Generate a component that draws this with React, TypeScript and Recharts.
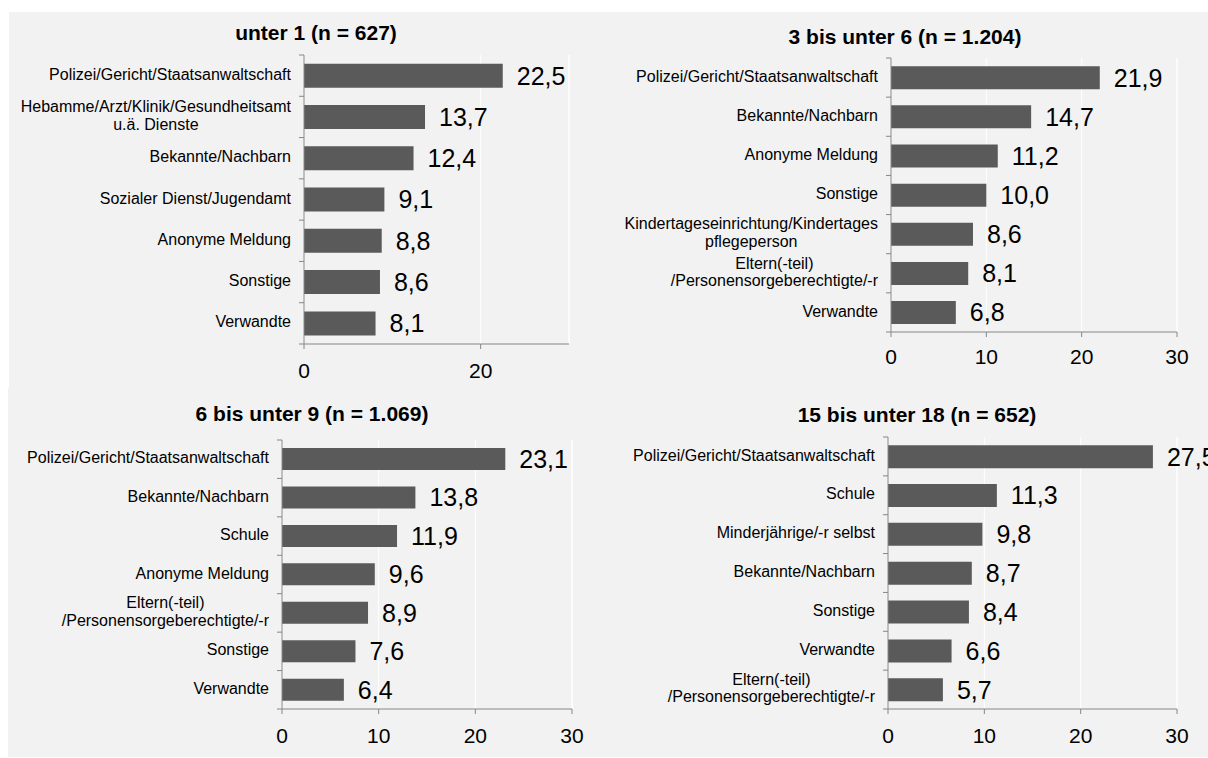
import React from 'react';
import { BarChart, Bar, XAxis, YAxis, CartesianGrid, LabelList, ReferenceLine } from 'recharts';

const FONT = "'Liberation Sans', Arial, sans-serif";
const AXIS = '#868686';
const BAR = '#5a5a5a';
const BG = '#f2f2f2';

// ---- data ----
const title1 = 'unter 1 (n = 627)';
const cats1 = [
  'Polizei/Gericht/Staatsanwaltschaft',
  'Hebamme/Arzt/Klinik/Gesundheitsamt\nu.ä. Dienste',
  'Bekannte/Nachbarn',
  'Sozialer Dienst/Jugendamt',
  'Anonyme Meldung',
  'Sonstige',
  'Verwandte',
];
const vals1 = [22.5, 13.7, 12.4, 9.1, 8.8, 8.6, 8.1];
const ticks1 = [0, 20];

const title2 = '3 bis unter 6 (n = 1.204)';
const cats2 = [
  'Polizei/Gericht/Staatsanwaltschaft',
  'Bekannte/Nachbarn',
  'Anonyme Meldung',
  'Sonstige',
  'Kindertageseinrichtung/Kindertages\npflegeperson',
  'Eltern(-teil)\n/Personensorgeberechtigte/-r',
  'Verwandte',
];
const vals2 = [21.9, 14.7, 11.2, 10.0, 8.6, 8.1, 6.8];
const ticks2 = [0, 10, 20, 30];

const title3 = '6 bis unter 9 (n = 1.069)';
const cats3 = [
  'Polizei/Gericht/Staatsanwaltschaft',
  'Bekannte/Nachbarn',
  'Schule',
  'Anonyme Meldung',
  'Eltern(-teil)\n/Personensorgeberechtigte/-r',
  'Sonstige',
  'Verwandte',
];
const vals3 = [23.1, 13.8, 11.9, 9.6, 8.9, 7.6, 6.4];
const ticks3 = [0, 10, 20, 30];

const title4 = '15 bis unter 18 (n = 652)';
const cats4 = [
  'Polizei/Gericht/Staatsanwaltschaft',
  'Schule',
  'Minderjährige/-r selbst',
  'Bekannte/Nachbarn',
  'Sonstige',
  'Verwandte',
  'Eltern(-teil)\n/Personensorgeberechtigte/-r',
];
const vals4 = [27.5, 11.3, 9.8, 8.7, 8.4, 6.6, 5.7];
const ticks4 = [0, 10, 20, 30];

const xMax = 30;

// ---- helpers ----
let ctx: CanvasRenderingContext2D | null = null;
function textWidth(s: string, size: number): number {
  if (!ctx && typeof document !== 'undefined') {
    ctx = document.createElement('canvas').getContext('2d');
  }
  if (!ctx) return s.length * size * 0.5;
  ctx.font = `${size}px 'Liberation Sans', Arial, sans-serif`;
  return ctx.measureText(s).width;
}

const fmt = (v: any) => Number(v).toFixed(1).replace('.', ',');

function CategoryTick(props: any) {
  const { y, payload, index, axisX, band, count } = props;
  const lines = String(payload.value).split('\n');
  const right = axisX - 13;
  const maxW = Math.max(...lines.map((l) => textWidth(l, 16)));
  const cx = right - maxW / 2;
  const lh = 17.5;
  const startY = y - ((lines.length - 1) * lh) / 2 - 1.5;
  return (
    <g>
      <line x1={axisX - 5} x2={axisX} y1={y - band / 2} y2={y - band / 2} stroke={AXIS} />
      {index === count - 1 && (
        <line x1={axisX - 5} x2={axisX} y1={y + band / 2} y2={y + band / 2} stroke={AXIS} />
      )}
      <text textAnchor="middle" fontSize={16} fontFamily={FONT} fill="#000">
        {lines.map((l, i) => (
          <tspan key={i} x={cx} y={startY + i * lh} dy="0.35em">
            {l}
          </tspan>
        ))}
      </text>
    </g>
  );
}

type PanelProps = {
  left: number;
  top: number;
  width: number;
  height: number;
  mTop: number;
  mRight: number;
  mBottom: number;
  yWidth: number;
  tickMargin: number;
  cats: string[];
  vals: number[];
  ticks: number[];
  title: string;
  titleCx: number;
  titleTop: number;
};

function Panel(p: PanelProps) {
  const data = p.cats.map((c, i) => ({ name: c, v: p.vals[i] }));
  const xAxisH = 30;
  const plotH = p.height - p.mTop - p.mBottom - xAxisH;
  const band = plotH / p.cats.length;
  return (
    <>
      <div
        style={{
          position: 'absolute',
          left: p.titleCx - 300,
          width: 600,
          top: p.titleTop,
          textAlign: 'center',
          fontFamily: FONT,
          fontWeight: 'bold',
          fontSize: 21,
          lineHeight: '24px',
          color: '#000',
          whiteSpace: 'nowrap',
        }}
      >
        {p.title}
      </div>
      <div style={{ position: 'absolute', left: p.left, top: p.top }}>
        <BarChart
          width={p.width}
          height={p.height}
          data={data}
          layout="vertical"
          margin={{ top: p.mTop, right: p.mRight, bottom: p.mBottom, left: 0 }}
          barCategoryGap="21%"
        >
          <CartesianGrid horizontal={false} stroke="#ffffff" />
          <ReferenceLine x={xMax} stroke="#ffffff" />
          <XAxis
            xAxisId="top"
            orientation="top"
            type="number"
            domain={[0, xMax]}
            height={0}
            tick={false}
            tickLine={false}
            axisLine={{ stroke: '#ffffff' }}
          />
          <XAxis
            type="number"
            domain={[0, xMax]}
            ticks={p.ticks}
            interval={0}
            height={xAxisH}
            tickSize={5}
            tickMargin={p.tickMargin}
            axisLine={{ stroke: AXIS }}
            tickLine={{ stroke: AXIS }}
            tick={{ fontSize: 21, fill: '#000', fontFamily: FONT }}
          />
          <YAxis
            type="category"
            dataKey="name"
            width={p.yWidth}
            interval={0}
            axisLine={{ stroke: AXIS }}
            tickLine={false}
            tick={(tp: any) => (
              <CategoryTick {...tp} axisX={p.yWidth} band={band} count={p.cats.length} />
            )}
          />
          <Bar dataKey="v" fill={BAR} isAnimationActive={false}>
            <LabelList
              dataKey="v"
              position="right"
              offset={14}
              formatter={fmt}
              fontSize={25}
              fill="#000"
              fontFamily={FONT}
            />
          </Bar>
        </BarChart>
      </div>
    </>
  );
}

export default function App() {
  return (
    <div
      style={{
        position: 'absolute',
        left: 0,
        top: 0,
        width: 1208,
        height: 758,
        background: '#ffffff',
        overflow: 'hidden',
      }}
    >
      <div style={{ position: 'absolute', left: 9, top: 12, width: 1199, height: 376, background: BG }} />
      <div style={{ position: 'absolute', left: 8, top: 388, width: 1200, height: 369, background: BG }} />
      <Panel
        left={0}
        top={0}
        width={600}
        height={388}
        mTop={55}
        mRight={31}
        mBottom={14}
        yWidth={304}
        tickMargin={14}
        cats={cats1}
        vals={vals1}
        ticks={ticks1}
        title={title1}
        titleCx={316}
        titleTop={21}
      />
      <Panel
        left={600}
        top={0}
        width={608}
        height={388}
        mTop={58}
        mRight={31}
        mBottom={26}
        yWidth={291}
        tickMargin={12}
        cats={cats2}
        vals={vals2}
        ticks={ticks2}
        title={title2}
        titleCx={905}
        titleTop={25}
      />
      <Panel
        left={0}
        top={388}
        width={600}
        height={370}
        mTop={52}
        mRight={28}
        mBottom={19}
        yWidth={282}
        tickMargin={14}
        cats={cats3}
        vals={vals3}
        ticks={ticks3}
        title={title3}
        titleCx={312}
        titleTop={402}
      />
      <Panel
        left={600}
        top={388}
        width={608}
        height={370}
        mTop={49}
        mRight={31}
        mBottom={19}
        yWidth={288}
        tickMargin={14}
        cats={cats4}
        vals={vals4}
        ticks={ticks4}
        title={title4}
        titleCx={917}
        titleTop={403}
      />
    </div>
  );
}
